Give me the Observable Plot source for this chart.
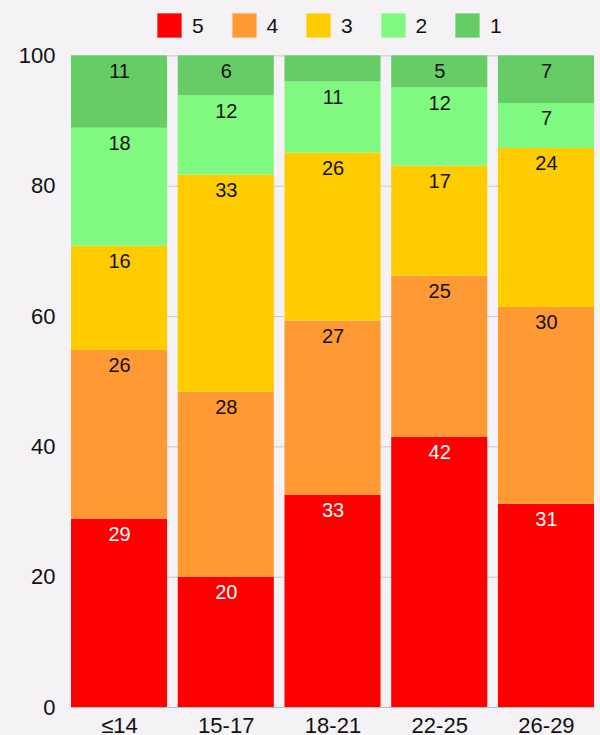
<!DOCTYPE html>
<html>
<head>
<meta charset="utf-8">
<script src="https://cdn.jsdelivr.net/npm/d3@7"></script>
<script src="https://cdn.jsdelivr.net/npm/@observablehq/plot@0.6"></script>
<style>
  html, body { margin: 0; padding: 0; background: #f4f2f5; }
  body { width: 600px; height: 735px; overflow: hidden; font-family: "Liberation Sans", Arial, sans-serif; }
  #legend { position: relative; height: 40px; }
  .item { position: absolute; top: 13px; display: flex; align-items: center; height: 25px; font-size: 21px; color: #111; }
  .sw { width: 25px; height: 25px; box-sizing: border-box; border: 1px solid rgba(255,255,255,0.35); margin-right: 10px; }
  #chart svg { display: block; }
</style>
</head>
<body>
<div id="legend"></div>
<div id="chart"></div>
<script>
const categories = ["≤14", "15-17", "18-21", "22-25", "26-29"];
const grades = ["5", "4", "3", "2", "1"];
const colors = ["#ff0000", "#ff9933", "#ffcc00", "#80f980", "#66cc66"];
const s5 = [28.9, 20.0, 32.6, 41.5, 31.2];
const s4 = [25.9, 28.4, 26.7, 24.7, 30.2];
const s3 = [16.0, 33.3, 25.8, 16.9, 24.4];
const s2 = [18.1, 12.2, 10.9, 12.0, 6.9];
const s1 = [11.1, 6.1, 4.0, 4.9, 7.3];
const yTicks = [0, 20, 40, 60, 80, 100];

const series = [s5, s4, s3, s2, s1];
const data = [];
categories.forEach((c, i) => {
  grades.forEach((g, j) => data.push({cat: c, grade: g, value: series[j][i]}));
});

// legend
const legend = document.getElementById("legend");
grades.forEach((g, j) => {
  const it = document.createElement("div");
  it.className = "item";
  it.style.left = (157 + j * 74.5) + "px";
  const sw = document.createElement("div");
  sw.className = "sw";
  sw.style.background = colors[j];
  const lb = document.createElement("span");
  lb.textContent = g;
  it.appendChild(sw); it.appendChild(lb);
  legend.appendChild(it);
});

const labelText = d => d.value >= 4.5 ? String(Math.round(d.value)) : "";
const font = "Liberation Sans, Arial, sans-serif";

const chart = Plot.plot({
  width: 600,
  height: 695,
  marginTop: 15.4,
  marginBottom: 28,
  marginLeft: 71,
  marginRight: 6,
  style: {background: "transparent", fontFamily: font, fontSize: "22px", color: "#111"},
  x: {domain: categories, paddingInner: 0.1, paddingOuter: 0, round: false, label: null, tickSize: 0, tickPadding: 10},
  y: {domain: [0, 100], ticks: yTicks, label: null, tickSize: 0, tickPadding: 16},
  color: {domain: grades, range: colors},
  marks: [
    Plot.gridY(yTicks, {stroke: "#c8c8c8", strokeOpacity: 1}),
    Plot.barY(data, {x: "cat", y: "value", fill: "grade", z: "grade", order: grades}),
    Plot.ruleY([0], {stroke: "#bbbbbb"}),
    Plot.text(data, Plot.stackY2({x: "cat", y: "value", z: "grade", order: grades,
      text: d => d.grade === "5" ? labelText(d) : "", fill: "white", dy: 15.5, fontSize: 20})),
    Plot.text(data, Plot.stackY2({x: "cat", y: "value", z: "grade", order: grades,
      text: d => d.grade !== "5" ? labelText(d) : "", fill: "#111", dy: 15.5, fontSize: 20}))
  ]
});
document.getElementById("chart").appendChild(chart);
</script>
</body>
</html>
